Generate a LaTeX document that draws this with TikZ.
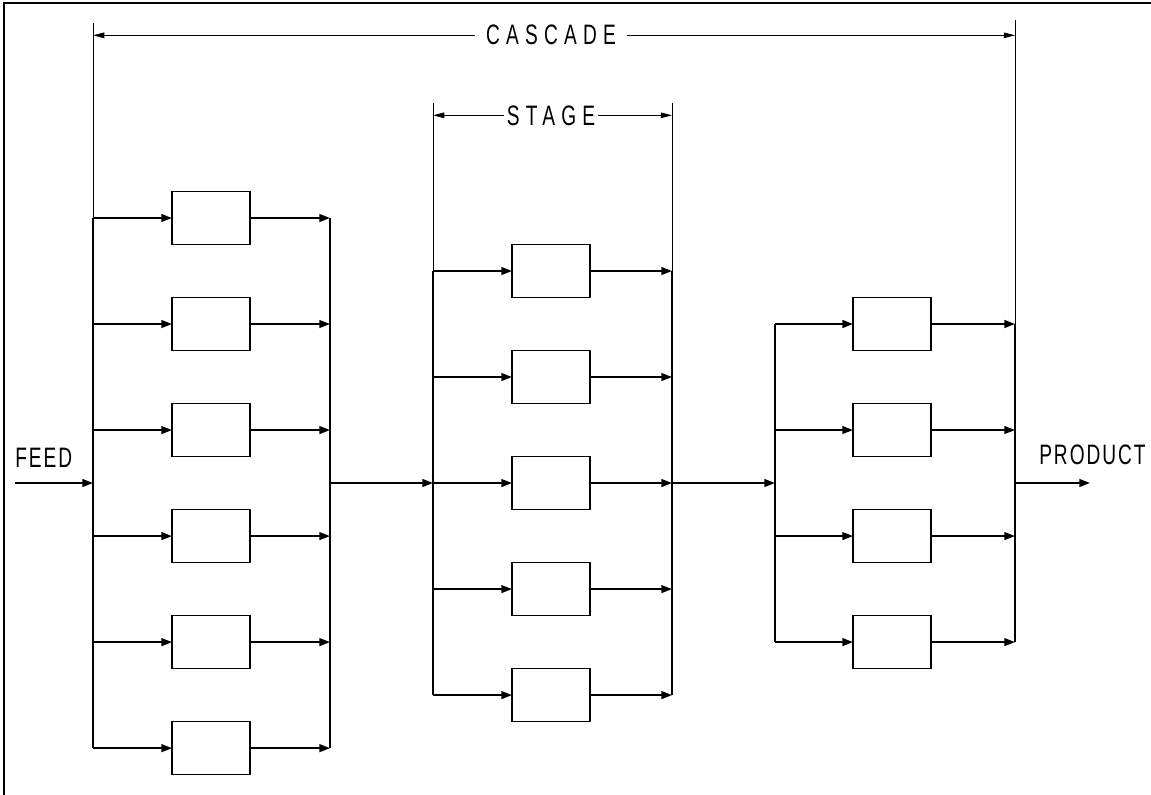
\documentclass[tikz,border=0pt]{standalone}
\usepackage{fontspec}
\newfontfamily\techfont[FakeStretch=0.68,LetterSpace=7]{Liberation Sans}
\newfontfamily\techwide[FakeStretch=0.68,LetterSpace=22]{Liberation Sans}
\usetikzlibrary{arrows.meta,positioning}

\begin{document}
\begin{tikzpicture}[
    x=0.025cm, y=-0.025cm,
    node distance=1.325cm,
    unit/.style={draw, line width=1pt, minimum width=1.95cm, minimum height=1.325cm, inner sep=0pt, outer sep=0pt},
    flow/.style={line width=1.2pt, -{Triangle[length=7.5pt,width=5.5pt]}},
    bus/.style={line width=1.2pt},
    dim/.style={line width=0.6pt},
    dimarrow/.style={dim, -{Triangle[length=8pt,width=4pt]}},
    lbl/.style={font=\techfont\fontsize{20}{22}\selectfont, inner sep=0pt},
    wide/.style={font=\techwide\fontsize{20}{22}\selectfont, inner ysep=0pt}
]
    \useasboundingbox (0,0) rectangle (1151,795);
    \draw[line width=2pt] (1151,3) -- (4,3) -- (4,795);

    % first stage
    \node[unit] (a1) at (211,218) {};
    \node[unit, below=of a1] (a2) {};
    \node[unit, below=of a2] (a3) {};
    \node[unit, below=of a3] (a4) {};
    \node[unit, below=of a4] (a5) {};
    \node[unit, below=of a5] (a6) {};

    % second stage
    \node[unit] (b1) at (551,271) {};
    \node[unit, below=of b1] (b2) {};
    \node[unit, below=of b2] (b3) {};
    \node[unit, below=of b3] (b4) {};
    \node[unit, below=of b4] (b5) {};

    % third stage
    \node[unit] (c1) at (892,324) {};
    \node[unit, below=of c1] (c2) {};
    \node[unit, below=of c2] (c3) {};
    \node[unit, below=of c3] (c4) {};

    \coordinate (in1) at (93,23);
    \coordinate (out1) at (330,218);
    \coordinate (in2) at (433,103);
    \coordinate (out2) at (672,103);
    \coordinate (in3) at (775,324);
    \coordinate (out3) at (1015,20);
    \coordinate (src) at (15,483);
    \coordinate (sink) at (1090,483);

    \draw[dim] (in1) -- (in1 |- a1);
    \draw[bus] (in1 |- a1) -- (in1 |- a6);
    \draw[bus] (out1 |- a1) -- (out1 |- a6);
    \draw[dim] (in2) -- (in2 |- b1);
    \draw[bus] (in2 |- b1) -- (in2 |- b5);
    \draw[dim] (out2) -- (out2 |- b1);
    \draw[bus] (out2 |- b1) -- (out2 |- b5);
    \draw[bus] (in3 |- c1) -- (in3 |- c4);
    \draw[dim] (out3) -- (out3 |- c1);
    \draw[bus] (out3 |- c1) -- (out3 |- c4);

    \foreach \i in {1,...,6} {
        \draw[flow] (in1 |- a\i) -- (a\i);
        \draw[flow] (a\i) -- (out1 |- a\i);
    }
    \foreach \i in {1,...,5} {
        \draw[flow] (in2 |- b\i) -- (b\i);
        \draw[flow] (b\i) -- (out2 |- b\i);
    }
    \foreach \i in {1,...,4} {
        \draw[flow] (in3 |- c\i) -- (c\i);
        \draw[flow] (c\i) -- (out3 |- c\i);
    }

    \draw[flow] (src) -- (src -| in1);
    \draw[flow] (out1 |- src) -- (in2 |- src);
    \draw[flow] (out2 |- src) -- (in3 |- src);
    \draw[flow] (out3 |- src) -- (sink);

    \node[lbl, anchor=base west] (feed) at (15,467) {FEED};
    \node[lbl, anchor=base west] (product) at (1039,464) {PRODUCT};

    \node[wide, anchor=base, inner xsep=8pt] (cascade) at (551,45) {CASCADE};
    \draw[dimarrow] (cascade.west) -- (in1 |- cascade.west);
    \draw[dimarrow] (cascade.east) -- (out3 |- cascade.east);

    \node[wide, anchor=base, inner xsep=2pt] (stage) at (551,125) {STAGE};
    \draw[dimarrow] (stage.west) -- (in2 |- stage.west);
    \draw[dimarrow] (stage.east) -- (out2 |- stage.east);
\end{tikzpicture}
\end{document}
